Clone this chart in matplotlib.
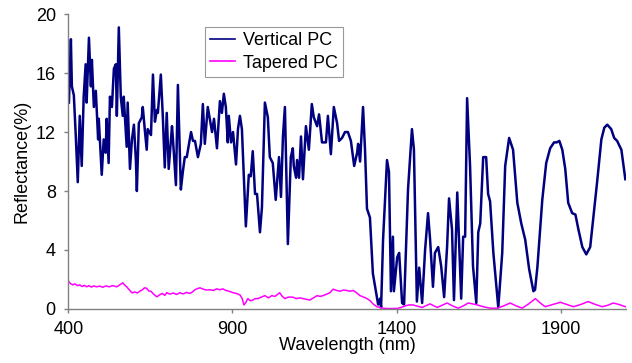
import matplotlib
matplotlib.use("Agg")
import matplotlib.pyplot as plt

plt.rcParams['font.family'] = ['Liberation Sans', 'DejaVu Sans']

# Vertical PC reflectance (%)
vert_nm = [402, 408, 411, 417, 423, 429, 435, 441, 447, 453, 456, 463, 469, 472, 478, 484,
           491, 493, 502, 508, 514, 517, 523, 527, 533, 539, 545, 548, 554, 560, 566, 569,
           578, 581, 588, 594, 600, 606, 609, 615, 624, 627, 633, 639, 642, 652, 658, 664,
           670, 673, 682, 688, 694, 700, 706, 716, 719, 728, 734, 743, 749, 755, 761, 774,
           780, 786, 795, 804, 810, 816, 825, 838, 844, 853, 862, 868, 874, 880, 886, 889,
           896, 902, 911, 917, 923, 929, 941, 950, 956, 962, 969, 975, 984, 990, 999, 1008,
           1014, 1023, 1032, 1042, 1048, 1054, 1060, 1069, 1078, 1084, 1087, 1094, 1097, 1103,
           1109, 1115, 1124, 1133, 1142, 1148, 1158, 1164, 1173, 1185, 1191, 1200, 1209, 1219,
           1225, 1234, 1243, 1252, 1261, 1271, 1280, 1283, 1289, 1298, 1304, 1310, 1319, 1328,
           1338, 1344, 1350, 1353, 1359, 1371, 1377, 1383, 1389, 1392, 1402, 1408, 1417, 1423,
           1435, 1447, 1453, 1462, 1469, 1478, 1487, 1496, 1502, 1511, 1517, 1527, 1536, 1545,
           1554, 1560, 1569, 1575, 1585, 1591, 1597, 1603, 1609, 1615, 1624, 1633, 1643, 1649,
           1655, 1664, 1673, 1679, 1685, 1695, 1710, 1722, 1731, 1743, 1755, 1768, 1780, 1792,
           1804, 1817, 1822, 1829, 1844, 1856, 1868, 1880, 1888, 1896, 1905, 1914, 1923, 1935,
           1945, 1954, 1966, 1978, 1990, 1999, 2011, 2024, 2033, 2042, 2054, 2063, 2072, 2085,
           2097]
vert_r = [14.0, 18.3, 15.1, 14.5, 11.7, 8.6, 13.1, 9.7, 14.4, 16.6, 14.0, 18.4, 15.1, 16.9, 13.7, 14.8,
          11.5, 12.9, 9.1, 11.5, 10.6, 12.9, 9.9, 14.4, 13.7, 16.3, 16.6, 13.1, 19.1, 14.4, 13.1, 14.4,
          11.0, 14.0, 9.5, 11.5, 12.5, 10.1, 8.0, 12.6, 13.0, 13.7, 12.2, 10.8, 12.2, 11.8, 15.9, 12.7,
          13.5, 13.3, 15.9, 13.1, 9.6, 13.3, 9.5, 12.4, 11.5, 8.4, 15.2, 8.1, 9.3, 10.3, 10.3, 12.0,
          11.4, 11.4, 10.3, 11.2, 13.9, 11.2, 13.7, 12.0, 12.9, 10.9, 14.1, 13.3, 14.6, 13.7, 11.3, 13.1,
          11.3, 12.0, 9.8, 12.2, 13.1, 12.2, 5.6, 9.1, 9.0, 10.7, 7.8, 7.8, 5.2, 6.9, 14.0, 13.0,
          10.3, 9.9, 7.4, 10.3, 7.6, 11.7, 13.7, 4.4, 10.3, 10.9, 9.7, 8.9, 10.1, 8.9,
          11.7, 8.8, 12.4, 10.8, 13.9, 13.0, 12.4, 13.2, 11.3, 11.3, 13.1, 10.5, 13.7, 12.6,
          11.4, 11.6, 12.0, 12.0, 11.4, 9.7, 10.6, 11.2, 10.0, 13.7, 10.8, 6.8, 6.2, 2.4,
          1.1, 0.3, 0.7, 0.1, 4.7, 10.1, 9.3, 1.2, 4.9, 1.2, 3.5, 3.8, 0.4, 0.3,
          8.1, 12.2, 10.8, 0.5, 2.8, 0.4, 4.0, 6.5, 4.8, 1.5, 3.8, 4.2, 2.9, 0.8,
          4.2, 7.5, 5.4, 0.6, 7.9, 4.2, 0.7, 4.9, 4.9, 14.3, 9.7, 2.9, 0.4, 5.2,
          5.8, 10.3, 10.3, 7.8, 7.3, 3.8, 0.1, 3.8, 9.7, 11.6, 10.8, 7.2, 5.8, 4.7,
          2.7, 1.2, 1.3, 2.8, 7.4, 9.9, 10.9, 11.3, 11.3, 11.4, 10.8, 9.5, 7.2, 6.5,
          6.4, 5.4, 4.2, 3.7, 4.2, 6.1, 8.6, 11.5, 12.3, 12.5, 12.2, 11.6, 11.4, 10.8,
          8.8]

# Tapered PC reflectance (%)
tap_nm = [402, 408, 414, 420, 428, 435, 442, 449, 456, 463, 470, 478, 486, 496, 505, 515,
          525, 535, 548, 556, 566, 572, 578, 586, 594, 603, 610, 618, 626, 632, 639, 645,
          652, 660, 670, 678, 686, 694, 700, 710, 720, 730, 740, 750, 760, 771, 778, 786,
          794, 801, 810, 820, 832, 842, 852, 862, 871, 880, 890, 902, 912, 923, 930, 935,
          940, 947, 955, 962, 970, 978, 988, 999, 1010, 1020, 1030, 1044, 1052, 1060, 1070,
          1084, 1095, 1105, 1115, 1125, 1136, 1147, 1158, 1167, 1176, 1187, 1197, 1207, 1218,
          1228, 1238, 1249, 1258, 1268, 1278, 1289, 1300, 1310, 1320, 1328, 1340, 1353, 1366,
          1380, 1392, 1402, 1414, 1426, 1438, 1450, 1464, 1478, 1490, 1502, 1513, 1524, 1539,
          1554, 1571, 1588, 1603, 1618, 1641, 1664, 1685, 1707, 1726, 1746, 1765, 1783, 1803,
          1823, 1838, 1853, 1876, 1899, 1919, 1939, 1961, 1984, 2006, 2027, 2044, 2060, 2078,
          2097]
tap_r = [1.84, 1.70, 1.63, 1.70, 1.58, 1.63, 1.52, 1.60, 1.50, 1.58, 1.48, 1.56, 1.50, 1.55, 1.47, 1.56,
         1.50, 1.58, 1.50, 1.62, 1.77, 1.62, 1.50, 1.30, 1.09, 1.15, 1.08, 1.20, 1.30, 1.43, 1.40, 1.22,
         1.20, 1.00, 0.82, 0.95, 1.05, 0.92, 1.10, 1.00, 1.08, 0.98, 1.10, 1.02, 1.12, 1.05, 1.15, 1.30,
         1.38, 1.43, 1.35, 1.28, 1.30, 1.25, 1.36, 1.30, 1.36, 1.25, 1.20, 1.10, 1.05, 0.95, 0.70, 0.27,
         0.40, 0.70, 0.55, 0.60, 0.70, 0.70, 0.80, 0.90, 0.75, 0.90, 0.85, 1.10, 0.85, 0.70, 0.80,
         0.80, 0.70, 0.75, 0.70, 0.65, 0.60, 0.75, 0.90, 0.85, 0.90, 1.00, 1.10, 1.34, 1.25,
         1.20, 1.28, 1.25, 1.20, 1.25, 1.10, 0.90, 0.80, 0.70, 0.55, 0.35, 0.15, 0.07, 0.03,
         0.02, 0.03, 0.03, 0.10, 0.20, 0.27, 0.27, 0.18, 0.10, 0.22, 0.34, 0.22, 0.10, 0.25,
         0.40, 0.20, 0.05, 0.20, 0.40, 0.30, 0.15, 0.05, 0.05, 0.20, 0.40, 0.20, 0.05, 0.35,
         0.70, 0.40, 0.15, 0.30, 0.45, 0.30, 0.15, 0.30, 0.50, 0.30, 0.15, 0.25, 0.40, 0.30,
         0.15]

x_ticks = [400, 900, 1400, 1900]
y_ticks = [0, 4, 8, 12, 16, 20]

fig = plt.figure(figsize=(6.32, 3.63), dpi=100)
ax = fig.add_axes([0.108, 0.149, 0.883, 0.812])

ax.plot(vert_nm, vert_r, color='#000080', lw=1.8, label='Vertical PC')
ax.plot(tap_nm, tap_r, color='#FF00FF', lw=1.1, label='Tapered PC')

ax.set_xlim(400, 2100)
ax.set_ylim(0, 20)
ax.set_xticks(x_ticks)
ax.set_yticks(y_ticks)
for s in ['top', 'right']:
    ax.spines[s].set_visible(False)
for s in ['left', 'bottom']:
    ax.spines[s].set_color('#808080')
    ax.spines[s].set_linewidth(1.0)
ax.tick_params(colors='#808080', length=3, width=1.0, labelcolor='black', labelsize=13, pad=6)

ax.set_xlabel('Wavelength (nm)', fontsize=13, labelpad=-1)
ax.set_ylabel('Reflectance(%)', fontsize=13, labelpad=4)

leg = ax.legend(loc='upper left', bbox_to_anchor=(0.324, 0.926), bbox_transform=fig.transFigure,
                fontsize=13, frameon=True, fancybox=False, handlelength=1.4, handletextpad=0.4,
                borderpad=0.3, labelspacing=0.3, borderaxespad=0)
leg.get_frame().set_edgecolor('#808080')
leg.get_frame().set_linewidth(0.8)
for h in leg.get_lines():
    h.set_linewidth(1.2)

fig.savefig('out.png', dpi=100)
